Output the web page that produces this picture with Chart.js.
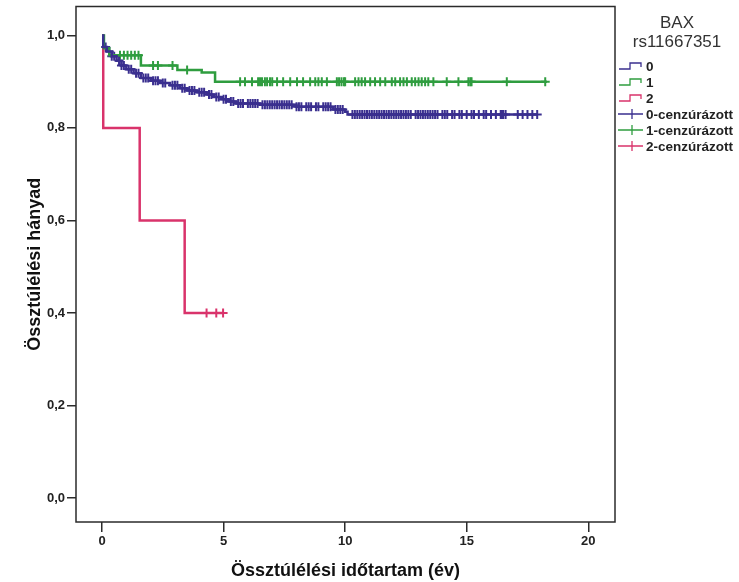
<!DOCTYPE html>
<html>
<head>
<meta charset="utf-8">
<script src="https://cdn.jsdelivr.net/npm/chart.js@4"></script>
<style>
  html, body { margin: 0; padding: 0; background: #fff; }
  #wrap { width: 739px; height: 582px; }
</style>
</head>
<body>
<div id="wrap"><canvas id="kmChart"></canvas></div>
<script>
// Kaplan-Meier lépcsők: [idő (év), túlélési hányad]
const group0Times  = [0, 0.05, 0.2, 0.4, 0.6, 0.8, 1.0, 1.3, 1.6, 2.0, 2.4, 2.8, 3.2, 3.5, 3.9, 4.3, 4.6, 4.9, 5.2, 5.5, 6.5, 8.0, 9.5, 10.0, 10.1, 17.9];
const group0Values = [1.0, 0.975, 0.965, 0.955, 0.945, 0.935, 0.927, 0.918, 0.908, 0.902, 0.897, 0.892, 0.886, 0.881, 0.877, 0.872, 0.867, 0.862, 0.857, 0.853, 0.85, 0.846, 0.84, 0.835, 0.829, 0.829];

const group1Times  = [0, 0.08, 0.3, 1.6, 3.1, 4.1, 4.65, 18.3];
const group1Values = [1.0, 0.972, 0.957, 0.935, 0.925, 0.92, 0.9, 0.9];

const group2Times  = [0, 0.05, 1.55, 3.4, 4.98];
const group2Values = [1.0, 0.8, 0.6, 0.4, 0.4];

// cenzúrázott esetek időpontjai
const group0Censored = [0.15, 0.3, 0.4, 0.5, 0.7, 0.8, 0.9, 1.1, 1.2, 1.4, 1.5, 1.7, 1.8, 1.9, 2.1, 2.2, 2.3, 2.5, 2.6, 2.9,
  3.0, 3.1, 3.3, 3.4, 3.6, 3.7, 3.8, 4.0, 4.1, 4.2, 4.4, 4.5, 4.7, 4.8, 5.0, 5.1, 5.3, 5.4, 5.6, 5.7, 5.8, 6.0, 6.1,
  6.2, 6.3, 6.4, 6.6, 6.7, 6.8, 6.9, 7.0, 7.1, 7.2, 7.3, 7.4, 7.5, 7.6, 7.7, 7.8, 8.0, 8.1, 8.2, 8.4, 8.5, 8.6, 8.8,
  8.9, 9.1, 9.2, 9.3, 9.4, 9.6, 9.7, 9.8, 9.9, 10.3, 10.4, 10.5, 10.6, 10.7, 10.8, 10.9, 11.0, 11.1, 11.2, 11.3, 11.4,
  11.5, 11.6, 11.7, 11.8, 11.9, 12.0, 12.1, 12.2, 12.3, 12.4, 12.5, 12.6, 12.7, 12.9, 13.0, 13.1, 13.2, 13.3, 13.4, 13.5,
  13.6, 13.7, 13.8, 14.0, 14.1, 14.2, 14.4, 14.5, 14.7, 14.8, 15.0, 15.2, 15.3, 15.5, 15.7, 15.8, 16.0, 16.2, 16.4,
  16.45, 16.5, 16.6, 17.1, 17.3, 17.5, 17.7, 17.9];
const group1Censored = [0.74, 0.9, 1.05, 1.2, 1.35, 1.5, 2.1, 2.3, 2.9, 3.5, 5.68, 5.88, 6.17, 6.42, 6.5, 6.58, 6.7, 6.79,
  6.91, 7.0, 7.2, 7.45, 7.74, 8.02, 8.27, 8.56, 8.77, 8.9, 9.04, 9.25, 9.66, 9.75, 9.85, 9.95, 10.0, 10.41, 10.55, 10.68,
  10.82, 11.03, 11.23, 11.44, 11.65, 11.92, 12.06, 12.26, 12.4, 12.54, 12.74, 12.88, 13.02, 13.15, 13.29, 13.42, 13.63,
  14.18, 14.66, 15.07, 15.15, 15.2, 16.65, 18.23];
const group2Censored = [4.3, 4.7, 4.98];

const xTicks = [0, 5, 10, 15, 20];
const yTicks = [0, 0.2, 0.4, 0.6, 0.8, 1.0];

const legendTitle = ['BAX', 'rs11667351'];
const groupLabels = ['0', '1', '2'];
const groupColors = ['#3a2f8f', '#2f9d3f', '#d9336b'];

function steps(times, values) {
    return times.map((t, i) => ({x: t, y: values[i]}));
}

// a cenzúra jel a lépcsőgörbén ül
function censorPoints(times, values, cens) {
    return cens.map(t => {
        let v = values[0];
        for (let i = 0; i < times.length; i++) {
            if (times[i] <= t) v = values[i];
        }
        return {x: t, y: v};
    });
}

const stepSets = [
    [group0Times, group0Values, group0Censored],
    [group1Times, group1Values, group1Censored],
    [group2Times, group2Values, group2Censored]
];

const datasets = [];
stepSets.forEach((s, i) => {
    datasets.push({
        label: groupLabels[i],
        data: steps(s[0], s[1]),
        borderColor: groupColors[i],
        borderWidth: 2.5,
        stepped: 'before',
        pointRadius: 0,
        fill: false
    });
});
stepSets.forEach((s, i) => {
    datasets.push({
        label: groupLabels[i] + '-cenzúrázott',
        data: censorPoints(s[0], s[1], s[2]),
        showLine: false,
        pointStyle: 'cross',
        pointRadius: 4.5,
        pointBorderWidth: 2,
        pointBorderColor: groupColors[i],
        pointBackgroundColor: groupColors[i]
    });
});

// keret + jelmagyarázat kézzel rajzolva
const framePlugin = {
    id: 'frameAndLegend',
    afterDraw(chart) {
        const ctx = chart.ctx;
        const a = chart.chartArea;
        ctx.save();
        ctx.strokeStyle = '#2b2b2b';
        ctx.lineWidth = 1.5;
        ctx.strokeRect(a.left, a.top, a.right - a.left, a.bottom - a.top);

        ctx.fillStyle = '#333';
        ctx.textAlign = 'center';
        ctx.textBaseline = 'middle';
        ctx.font = '17px "Liberation Sans", Arial, sans-serif';
        ctx.fillText(legendTitle[0], 677, 23);
        ctx.fillText(legendTitle[1], 677, 42);

        ctx.textAlign = 'left';
        ctx.font = 'bold 13.5px "Liberation Sans", Arial, sans-serif';
        const rowY = [66, 82, 98, 114, 130, 146];
        chart.data.datasets.forEach((ds, i) => {
            const y = rowY[i];
            const col = groupColors[i % 3];
            ctx.strokeStyle = col;
            ctx.lineWidth = 1.3;
            ctx.beginPath();
            if (i < 3) {
                ctx.moveTo(619, y + 3);
                ctx.lineTo(630, y + 3);
                ctx.lineTo(630, y - 3);
                ctx.lineTo(641, y - 3);
                ctx.lineTo(641, y + 1);
            } else {
                ctx.moveTo(618, y);
                ctx.lineTo(643, y);
                ctx.moveTo(632, y - 5);
                ctx.lineTo(632, y + 5);
            }
            ctx.stroke();
            ctx.fillStyle = '#222';
            ctx.fillText(ds.label, 646, y + 1);
        });
        ctx.restore();
    }
};

const tickFont = {family: '"Liberation Sans", Arial, sans-serif', size: 13, weight: 'bold'};
const titleFont = {family: '"Liberation Sans", Arial, sans-serif', size: 18, weight: 'bold'};

new Chart(document.getElementById('kmChart'), {
    type: 'line',
    data: {datasets: datasets},
    plugins: [framePlugin],
    options: {
        responsive: true,
        maintainAspectRatio: false,
        animation: false,
        layout: {padding: {top: 5, right: 124, left: 0, bottom: 0}},
        plugins: {
            legend: {display: false},
            tooltip: {enabled: false}
        },
        scales: {
            x: {
                type: 'linear',
                min: -1.07,
                max: 21.1,
                afterBuildTicks: scale => { scale.ticks = xTicks.map(v => ({value: v})); },
                afterFit: scale => { scale.height = 60; scale.paddingLeft = 0; scale.paddingRight = 0; },
                border: {display: false},
                grid: {drawOnChartArea: false, tickLength: 10, color: '#2b2b2b', lineWidth: 1.5},
                ticks: {font: tickFont, color: '#222', padding: 2, maxRotation: 0},
                title: {display: true, text: 'Össztúlélési időtartam (év)', font: titleFont, color: '#111', padding: {top: 0, bottom: 0}}
            },
            y: {
                min: -0.052,
                max: 1.0625,
                afterBuildTicks: scale => { scale.ticks = yTicks.map(v => ({value: v})); },
                afterFit: scale => { scale.width = 76; scale.paddingTop = 0; scale.paddingBottom = 0; },
                border: {display: false},
                grid: {drawOnChartArea: false, tickLength: 9, color: '#2b2b2b', lineWidth: 1.5},
                ticks: {font: tickFont, color: '#222', padding: 2, callback: v => v.toFixed(1).replace('.', ',')},
                title: {display: true, text: 'Össztúlélési hányad', font: titleFont, color: '#111', padding: {top: 24, bottom: 0}}
            }
        }
    }
});
</script>
</body>
</html>
